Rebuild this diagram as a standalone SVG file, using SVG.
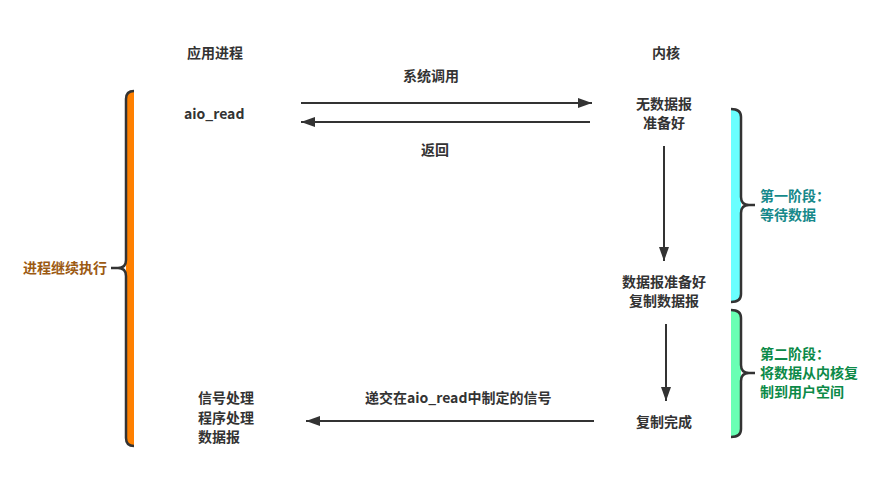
<svg xmlns="http://www.w3.org/2000/svg" width="883" height="485" viewBox="0 0 883 485">
<style>
text{font-family:"Noto Sans CJK SC","Liberation Sans",sans-serif;font-size:14px;font-weight:bold;fill:#333}
.c{stroke:#333;stroke-width:2;fill:none}
.br{stroke:#333;stroke-width:2.5;fill:none}
</style>
<defs>
<marker id="ah" viewBox="0 0 14 10" refX="14" refY="5" markerWidth="14" markerHeight="10" markerUnits="userSpaceOnUse" orient="auto">
<path d="M0,0L14,5L0,10Z" fill="#333"/>
</marker>
</defs>
<rect width="883" height="485" fill="#fff"/>
<g id="labels">
<text x="187" y="58">应用进程</text>
<text x="652" y="58">内核</text>
<text x="403" y="81">系统调用</text>
<text x="421" y="155">返回</text>
<text x="184" y="119">aio_read</text>
<text x="365" y="403">递交在aio_read中制定的信号</text>
</g>
<g id="kernel-nodata"><text x="636" y="109">无数据报</text><text x="643" y="128">准备好</text></g>
<g id="kernel-ready"><text x="622" y="287">数据报准备好</text><text x="629" y="306">复制数据报</text></g>
<g id="kernel-done"><text x="636" y="427">复制完成</text></g>
<g id="app-handler"><text x="198" y="403">信号处理</text><text x="198" y="423">程序处理</text><text x="198" y="442">数据报</text></g>
<g id="brace-left">
<path d="M134,91 Q126,91 126,99 L126,438 Q126,446 134,446 Z" fill="#ff8000"/>
<path class="br" d="M134,91 Q126,91 126,99 L126,260 Q126,268 118,268 L111,268 M118,268 Q126,268 126,276 L126,438 Q126,446 134,446"/>
<text x="23" y="273" style="fill:#9c5a12">进程继续执行</text>
</g>
<g id="brace-phase1">
<path d="M731,109 Q741,109 741,117 L741,294 Q741,302 731,302 Z" fill="#6affff"/>
<path class="br" d="M731,109 Q741,109 741,117 L741,197 Q741,205 749,205 L755,205 M749,205 Q741,205 741,213 L741,294 Q741,302 731,302"/>
<text x="760" y="201" style="fill:#16898a">第一阶段：</text>
<text x="760" y="220" style="fill:#16898a">等待数据</text>
</g>
<g id="brace-phase2">
<path d="M731,310 Q741,310 741,318 L741,429 Q741,437 731,437 Z" fill="#6affb4"/>
<path class="br" d="M731,310 Q741,310 741,318 L741,365 Q741,373 749,373 L755,373 M749,373 Q741,373 741,381 L741,429 Q741,437 731,437"/>
<text x="760" y="359" style="fill:#0c8a48">第二阶段：</text>
<text x="760" y="378" style="fill:#0c8a48">将数据从内核复</text>
<text x="760" y="397" style="fill:#0c8a48">制到用户空间</text>
</g>
<g id="connectors">
<line class="c" x1="301" y1="103" x2="592" y2="103" marker-end="url(#ah)"/>
<line class="c" x1="590" y1="122" x2="301" y2="122" marker-end="url(#ah)"/>
<line class="c" x1="664" y1="146" x2="664" y2="261" marker-end="url(#ah)"/>
<line class="c" x1="666" y1="324" x2="666" y2="401" marker-end="url(#ah)"/>
<line class="c" x1="594" y1="421" x2="306" y2="421" marker-end="url(#ah)"/>
</g>
</svg>
